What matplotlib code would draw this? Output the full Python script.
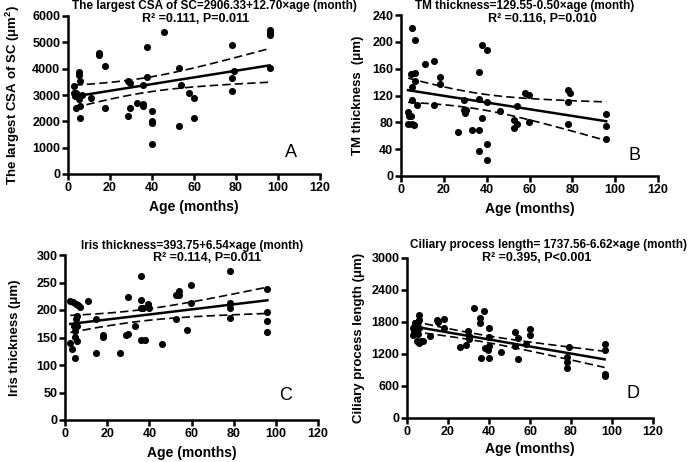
import numpy as np
import matplotlib
matplotlib.use("Agg")
import matplotlib.pyplot as plt

plt.rcParams['font.family'] = ['Liberation Sans', 'DejaVu Sans']
plt.rcParams['font.weight'] = 'bold'
plt.rcParams['mathtext.fontset'] = 'custom'
plt.rcParams['mathtext.rm'] = 'Liberation Sans:bold'
plt.rcParams['mathtext.bf'] = 'Liberation Sans:bold'
plt.rcParams['mathtext.it'] = 'Liberation Sans:bold'

# ---------------- data ----------------
a_age = [3, 3, 3.3, 3.8, 4, 4.5, 5, 5, 5, 5.7, 5.7, 5.7, 6.5, 10.8, 14.6, 14.6, 17.8, 17.8,
         28.7, 28.7, 29.7, 29.7, 32.7, 35.5, 35.9, 35.9, 37.6, 37.6, 39.8, 39.8, 39.8, 39.8,
         45.7, 52.7, 52.7, 53.8, 57.8, 59.8, 59.8, 78, 78, 78, 79, 96, 96, 96, 96]
a_val = [3350, 3070, 2980, 3090, 2500, 3000, 3890, 3760, 2850, 3535, 2590, 2120, 3000, 2900,
         4580, 4500, 4100, 2500, 2210, 3550, 3450, 2500, 2690, 2660, 2590, 3370, 4810, 3700,
         2400, 2030, 1930, 1150, 5380, 4030, 1830, 3370, 3090, 2900, 2120, 4910, 3650, 3170,
         3910, 5470, 5370, 5280, 4040]

b_age = [3.3, 3.7, 3.4, 4.5, 4.5, 5.3, 6.6, 5.3, 5.3, 5.3, 6, 6.4, 6.4, 7.6, 11.2, 15.4, 15.4,
         18.4, 18.4, 26.4, 29.2, 29.5, 29.8, 30.3, 33, 36.2, 36.2, 36.2, 36.2, 38, 38, 40.2,
         40.2, 40.2, 40.2, 46.2, 52.9, 52.9, 54.1, 54.1, 58, 59.9, 59.9, 77.9, 77.9, 77.9, 79,
         95.8, 95.8, 95.8]
b_val = [96, 90, 78, 89, 152, 221, 203, 132, 114, 78, 76, 154, 142, 106, 167, 172, 106,
         148, 137, 65, 114, 98, 94, 98, 68, 155, 115, 69, 37, 87, 195, 188,
         110, 48, 24, 97, 84, 72, 78, 104, 124, 121, 80, 128, 111, 78, 124,
         92, 75, 55]

c_age = [2.5, 2.5, 3.5, 3.8, 4.1, 4.6, 4.9, 4.9, 5.1, 5.4, 5.7, 5.7, 5.9, 6.2, 7, 10.9, 14.9,
         14.9, 18, 18, 25.9, 29.1, 29.9, 29.9, 33, 35.9, 35.9, 35.9, 38, 35.9, 37, 39.4, 39.7,
         46, 52.8, 52.8, 54, 54, 57.9, 59.9, 59.9, 78.1, 78.1, 78.1, 78.1, 96, 96, 96, 96]
c_val = [217, 140, 130, 215, 171, 162, 151, 113, 211, 183, 171, 189, 143, 209, 205, 216, 183,
         122, 154, 151, 122, 154, 157, 224, 171, 262, 219, 146, 146, 203, 204, 211, 203,
         138, 183, 227, 234, 228, 163, 245, 213, 271, 213, 204, 185, 239, 196, 180, 160]

d_age = [2.8, 2.8, 3.6, 4.1, 4.4, 4.7, 4.7, 5.2, 5.2, 5.7, 5.7, 6, 6, 6.8, 7.7, 11.2, 14.5, 15,
         17.9, 17.9, 25.7, 28.8, 29.6, 30.1, 30.1, 32.9, 35.8, 35.8, 36.1, 37.8, 38.1, 39.4,
         39.9, 39.9, 39.9, 39.9, 45.7, 52.9, 52.9, 54.1, 54.1, 58.1, 59.9, 59.9, 78, 78, 78, 79,
         96.4, 96.4, 96.4, 96.4]
d_val = [1690, 1553, 1628, 1784, 1721, 1628, 1441, 1803, 1566, 1940, 1846, 1690, 1410, 1441,
         1453, 1534, 1846, 1803, 1865, 1690, 1328, 1378, 1640, 1472, 1534, 2064, 1877, 1784,
         1129, 2002, 1316, 1266, 1690, 1516, 1129, 1347, 1241, 1615, 1347, 1503, 1098, 1391,
         1678, 1553, 1054, 929, 1141, 1328, 1391, 1266, 830, 786]

# fitted line coefficients (intercept, slope) as drawn
line_coef = [(2906.33, 12.70), (129.55, -0.50), (173.5, 0.46), (1737.56, -6.62)]

titles = ["The largest CSA of SC=2906.33+12.70×age (month)",
          "TM thickness=129.55-0.50×age (month)",
          "Iris thickness=393.75+6.54×age (month)",
          "Ciliary process length= 1737.56-6.62×age (month)"]
subtitles = ["R² =0.111, P=0.011", "R² =0.116, P=0.010",
             "R² =0.114, P=0.011", "R² =0.395, P<0.001"]
ylabels = [r"The largest CSA of SC (μm$^{2}$)", "TM thickness  (μm)",
           "Iris thickness (μm)", "Ciliary process length (μm)"]
letters = ["A", "B", "C", "D"]
ylims = [6000, 240, 300, 3000]
yticks = [np.arange(0, 6001, 1000), np.arange(0, 241, 40),
          np.arange(0, 301, 50), np.arange(0, 3001, 600)]
xticks = np.arange(0, 121, 20)

# ---------------- layout ----------------
W, H = 692, 462
fig = plt.figure(figsize=(W / 100, H / 100), dpi=100)

def px_axes(l, r, t, b):
    return [l / W, 1 - b / H, (r - l) / W, (b - t) / H]

rects = [px_axes(68, 320, 16, 174), px_axes(401, 658, 15, 176),
         px_axes(65, 318, 255, 420), px_axes(407, 653, 258, 418)]
title_pos = [(214, 6), (525, 6), (192, 246), (549, 245)]
sub_pos = [(196, 19), (542, 19), (207, 258), (537, 258)]
letter_pos = [(0.885, 0.133), (0.907, 0.13), (0.87, 0.15), (0.92, 0.15)]
ylab_x = [-0.183, -0.144, -0.174, -0.171]
xlab_y = [-0.165, -0.161, -0.158, -0.15]

datasets = [(a_age, a_val), (b_age, b_val), (c_age, c_val), (d_age, d_val)]

for i, (xs, ys) in enumerate(datasets):
    ax = fig.add_axes(rects[i])
    xs = np.asarray(xs, float)
    ys = np.asarray(ys, float)
    ax.scatter(xs, ys, s=26, color='black', zorder=3, linewidths=0)
    b0, b1 = line_coef[i]
    xx = np.linspace(xs.min(), xs.max(), 100)
    yy = b0 + b1 * xx
    n = len(xs)
    resid = ys - (b0 + b1 * xs)
    s = np.sqrt(np.sum(resid ** 2) / (n - 2))
    sxx = np.sum((xs - xs.mean()) ** 2)
    se = s * np.sqrt(1 / n + (xx - xs.mean()) ** 2 / sxx)
    t = 2.01
    ax.plot(xx, yy, color='black', lw=1.8, zorder=4)
    ax.plot(xx, yy + t * se, color='black', lw=1.2, ls=(0, (5, 2.5)), zorder=4)
    ax.plot(xx, yy - t * se, color='black', lw=1.2, ls=(0, (5, 2.5)), zorder=4)

    ax.set_xlim(0, 120)
    ax.set_ylim(0, ylims[i])
    ax.set_xticks(xticks)
    ax.set_yticks(yticks[i])
    for sp in ['top', 'right']:
        ax.spines[sp].set_visible(False)
    for sp in ['left', 'bottom']:
        ax.spines[sp].set_linewidth(1.8)
    ax.tick_params(width=1.8, length=4, labelsize=9, pad=1.5)
    for lab in ax.get_xticklabels() + ax.get_yticklabels():
        lab.set_fontweight('bold')
    ax.set_xlabel("Age (months)", fontsize=10, fontweight='bold')
    ax.set_ylabel(ylabels[i], fontsize=9.5, fontweight='bold')
    ax.yaxis.set_label_coords(ylab_x[i], 0.5)
    ax.xaxis.set_label_coords(0.5, xlab_y[i])
    ax.text(letter_pos[i][0], letter_pos[i][1], letters[i], transform=ax.transAxes,
            fontsize=13, fontweight='normal', ha='center', va='center')
    ax.patch.set_visible(False)
    fig.text(title_pos[i][0] / W, 1 - title_pos[i][1] / H, titles[i], fontsize=8.5,
             fontweight='bold', ha='center', va='center')
    fig.text(sub_pos[i][0] / W, 1 - sub_pos[i][1] / H, subtitles[i], fontsize=9,
             fontweight='bold', ha='center', va='center')

fig.savefig("out.png", dpi=100)
